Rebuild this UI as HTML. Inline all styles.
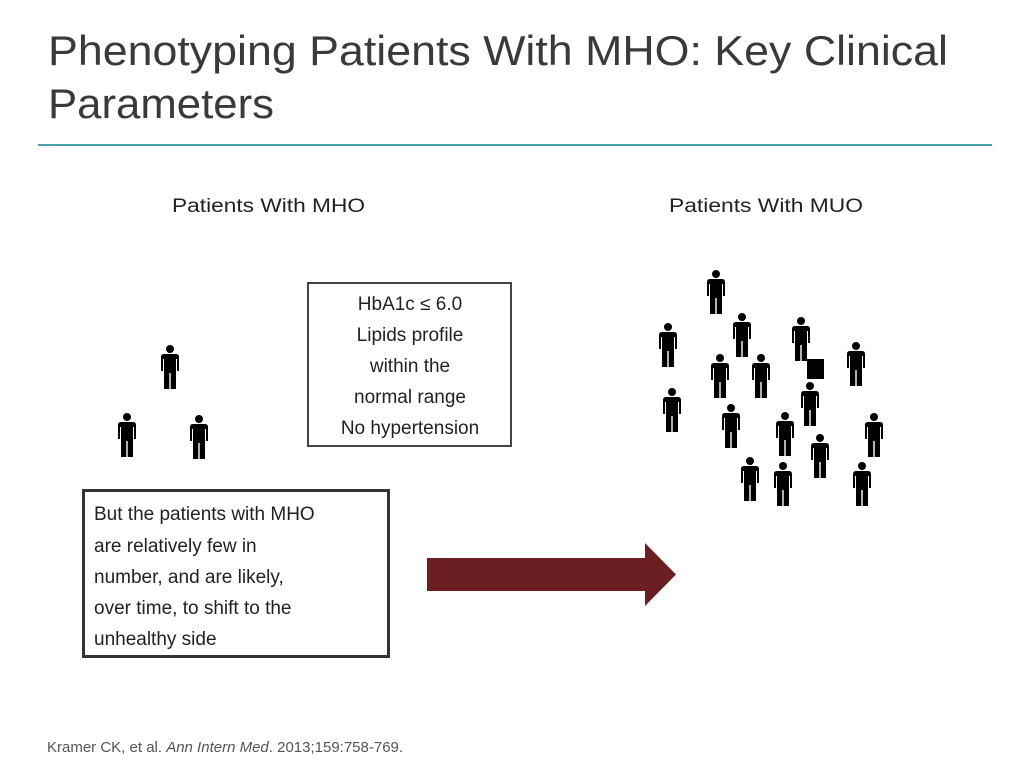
<!DOCTYPE html>
<html><head><meta charset="utf-8"><style>
html,body{margin:0;padding:0;background:#fff;}
svg{display:block;}
text{font-family:"Liberation Sans",sans-serif;}
</style></head><body>
<svg width="1024" height="768" viewBox="0 0 1024 768" xmlns="http://www.w3.org/2000/svg">
<defs>
<g id="p">
<circle cx="9" cy="4" r="4" fill="#000"/>
<path d="M3 9 H15 Q18 9 18 12 V26 H16 V14 H15 V44 H9.7 V28 H8.3 V44 H3 V14 H2 V26 H0 V12 Q0 9 3 9 Z" fill="#000"/>
</g>
</defs>
<text x="48" y="65" font-size="42" fill="#3a3a3a" textLength="900" lengthAdjust="spacingAndGlyphs">Phenotyping Patients With MHO: Key Clinical</text>
<text x="48" y="118" font-size="42" fill="#3a3a3a" textLength="226" lengthAdjust="spacingAndGlyphs">Parameters</text>
<rect x="38" y="144" width="954" height="2" fill="#4a9fae"/>

<text x="172" y="212" font-size="19" fill="#222" textLength="193" lengthAdjust="spacingAndGlyphs">Patients With MHO</text>
<text x="669" y="212" font-size="19" fill="#222" textLength="194" lengthAdjust="spacingAndGlyphs">Patients With MUO</text>

<rect x="308" y="283" width="203" height="163" fill="none" stroke="#444" stroke-width="2"/>
<g font-size="19" fill="#222" text-anchor="middle">
<text x="410" y="310">HbA1c ≤ 6.0</text>
<text x="410" y="341">Lipids profile</text>
<text x="410" y="372">within the</text>
<text x="410" y="403">normal range</text>
<text x="410" y="434">No hypertension</text>
</g>

<rect x="83.5" y="490.5" width="305" height="166" fill="none" stroke="#333" stroke-width="3"/>
<g font-size="19" fill="#222">
<text x="94" y="520">But the patients with MHO</text>
<text x="94" y="552">are relatively few in</text>
<text x="94" y="583">number, and are likely,</text>
<text x="94" y="614">over time, to shift to the</text>
<text x="94" y="645">unhealthy side</text>
</g>

<path d="M427 558 H645 V543 L676 574.5 L645 606 V591 H427 Z" fill="#6b1f22"/>

<g>
<use href="#p" x="161" y="345"/>
<use href="#p" x="118" y="413"/>
<use href="#p" x="190" y="415"/>

<use href="#p" x="707" y="270"/>
<use href="#p" x="733" y="313"/>
<use href="#p" x="792" y="317"/>
<use href="#p" x="659" y="323"/>
<use href="#p" x="847" y="342"/>
<use href="#p" x="711" y="354"/>
<use href="#p" x="752" y="354"/>
<rect x="807" y="359" width="17" height="20" fill="#000"/>
<use href="#p" x="801" y="382"/>
<use href="#p" x="663" y="388"/>
<use href="#p" x="722" y="404"/>
<use href="#p" x="776" y="412"/>
<use href="#p" x="865" y="413"/>
<use href="#p" x="811" y="434"/>
<use href="#p" x="741" y="457"/>
<use href="#p" x="774" y="462"/>
<use href="#p" x="853" y="462"/>
</g>

<text x="47" y="752" font-size="15" fill="#555">Kramer CK, et al. <tspan font-style="italic">Ann Intern Med</tspan>. 2013;159:758-769.</text>
</svg>
</body></html>
